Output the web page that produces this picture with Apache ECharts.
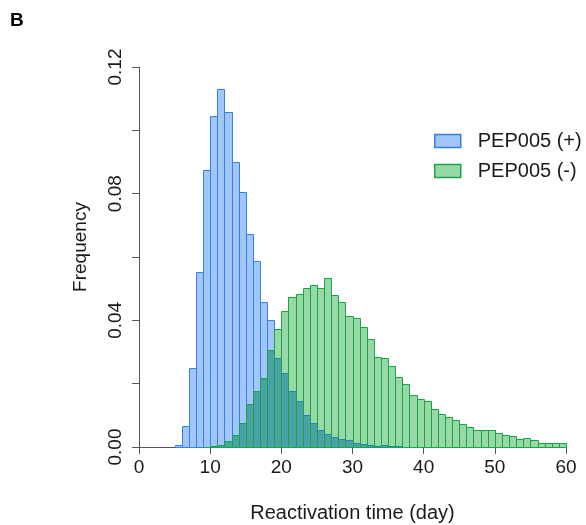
<!DOCTYPE html>
<html>
<head>
<meta charset="utf-8">
<script src="https://cdn.jsdelivr.net/npm/echarts@6/dist/echarts.min.js"></script>
<style>html,body{margin:0;padding:0;background:#fff}#c{width:586px;height:525px}</style>
</head>
<body>
<div id="c"></div>
<script>
// Histogram bins: each bin covers [start, start+1) days
const binStarts = [0,1,2,3,4,5,6,7,8,9,10,11,12,13,14,15,16,17,18,19,20,21,22,23,24,25,26,27,28,29,30,31,32,33,34,35,36,37,38,39,40,41,42,43,44,45,46,47,48,49,50,51,52,53,54,55,56,57,58,59];
const binWidth = 1;
// PEP005 (+) frequencies per bin
const pepPlus = [0,0,0,0,0,0.0005,0.0065,0.0249,0.0554,0.0875,0.1045,0.1130,0.1059,0.0899,0.0804,0.0672,0.0586,0.0457,0.0400,0.0281,0.0233,0.0178,0.0144,0.0102,0.0076,0.0054,0.0042,0.0031,0.0025,0.0021,0.0013,0.0010,0.0006,0.0004,0.0005,0.0003,0.0002,0.0001,0.0001,0.0001,0,0,0,0,0,0,0,0,0,0,0,0,0,0,0,0,0,0,0,0];
// PEP005 (-) frequencies per bin
const pepMinus = [0,0,0,0,0,0,0,0,0,0.0001,0.0003,0.0007,0.0019,0.0037,0.0076,0.0136,0.0176,0.0217,0.0305,0.0373,0.0431,0.0474,0.0484,0.0503,0.0512,0.0501,0.0535,0.0480,0.0457,0.0415,0.0406,0.0378,0.0340,0.0284,0.0280,0.0257,0.0222,0.0198,0.0165,0.0152,0.0144,0.0121,0.0104,0.0096,0.0085,0.0072,0.0064,0.0055,0.0054,0.0054,0.0044,0.0038,0.0035,0.0026,0.0027,0.0022,0.0014,0.0014,0.0014,0.0014];
const yTickLabels = ['0.00','','0.04','','0.08','','0.12'];
const seriesNames = ['PEP005 (+)','PEP005 (-)'];

const FONT = '"Liberation Sans", Arial, Helvetica, sans-serif';
const BLUE = {fill:'#a2c5fa', stroke:'#2f80f0'};
const GREEN = {fill:'#97d8a7', stroke:'#18a445'};
const OVERLAP = '#4aa2a8';
const BLUE_UNDER = '#2a7fc4';

function makeData(vals, other){
  return binStarts.map((s,i)=>[s, s+binWidth, vals[i], other ? other[i] : 0]).filter(d=>d[2]>0);
}
function px(api, x, y){
  const p = api.coord([x, y]);
  return [Math.round(p[0]) + 0.5, Math.round(p[1]) + 0.5];
}
function renderBlue(params, api){
  const x0 = api.value(0), x1 = api.value(1), v = api.value(2);
  const a = px(api, x0, 0), b = px(api, x1, v);
  return {type:'rect', shape:{x:a[0], y:b[1], width:b[0]-a[0], height:a[1]-b[1]},
    style:{fill:BLUE.fill, stroke:BLUE.stroke, lineWidth:1}};
}
function renderGreen(params, api){
  const x0 = api.value(0), x1 = api.value(1), g = api.value(2), bl = api.value(3);
  const a = px(api, x0, 0), top = px(api, x1, g);
  const ov = Math.min(g, bl);
  const ovTop = px(api, x1, ov);
  const children = [
    {type:'rect', shape:{x:a[0], y:top[1], width:top[0]-a[0], height:a[1]-top[1]},
      style:{fill:GREEN.fill, stroke:null}}
  ];
  if (ov > 0) {
    children.push({type:'rect', shape:{x:a[0], y:ovTop[1], width:ovTop[0]-a[0], height:a[1]-ovTop[1]},
      style:{fill:OVERLAP, stroke:null}});
  }
  if (bl > 0 && bl < g) {
    children.push({type:'line', shape:{x1:a[0], y1:ovTop[1], x2:ovTop[0], y2:ovTop[1]},
      style:{stroke:BLUE_UNDER, lineWidth:1}});
  }
  children.push({type:'rect', shape:{x:a[0], y:top[1], width:top[0]-a[0], height:a[1]-top[1]},
    style:{fill:null, stroke:GREEN.stroke, lineWidth:1}});
  return {type:'group', children:children};
}

const chart = echarts.init(document.getElementById('c'), null, {renderer:'canvas'});
chart.setOption({
  animation:false,
  backgroundColor:'#ffffff',
  textStyle:{fontFamily:FONT},
  grid:{left:139, right:20, top:67, bottom:78, containLabel:false, outerBoundsMode:'none'},
  xAxis:{
    type:'value', min:0, max:60, interval:10,
    axisLine:{show:true, onZero:false, lineStyle:{color:'#555', width:1}},
    axisTick:{show:true, length:7, lineStyle:{color:'#555'}},
    axisLabel:{fontSize:19, color:'#1a1a1a', margin:11, fontFamily:FONT},
    splitLine:{show:false},
    name:'Reactivation time (day)', nameLocation:'middle', nameGap:56,
    nameTextStyle:{fontSize:20, color:'#1a1a1a', fontFamily:FONT}
  },
  yAxis:{
    type:'value', min:0, max:0.12, interval:0.02,
    axisLine:{show:true, lineStyle:{color:'#555', width:1}},
    axisTick:{show:true, length:7, lineStyle:{color:'#555'}},
    axisLabel:{rotate:90, fontSize:19, color:'#1a1a1a', margin:14, fontFamily:FONT,
      formatter:function(v, i){ return yTickLabels[i] || ''; }},
    splitLine:{show:false}
  },
  legend:{
    orient:'vertical', left:434, top:131, padding:0, itemWidth:26, itemHeight:13, itemGap:10,
    icon:'rect',
    textStyle:{fontSize:20, color:'#1a1a1a', fontFamily:FONT, padding:[0,0,0,12]},
    data:[
      {name:seriesNames[0], itemStyle:{color:BLUE.fill, borderColor:BLUE.stroke, borderWidth:1.5}},
      {name:seriesNames[1], itemStyle:{color:GREEN.fill, borderColor:GREEN.stroke, borderWidth:1.5}}
    ]
  },
  graphic:[
    {type:'text', left:10, top:11, style:{text:'B', font:'bold 19px '+FONT, fill:'#000'}},
    {type:'text', x:81, y:247, rotation:Math.PI/2,
      style:{text:'Frequency', font:'19px '+FONT, fill:'#1a1a1a', align:'center', verticalAlign:'middle'}}
  ],
  series:[
    {type:'custom', name:seriesNames[0], renderItem:renderBlue, data:makeData(pepPlus),
      itemStyle:{color:BLUE.fill, borderColor:BLUE.stroke}, encode:{x:[0,1], y:2}},
    {type:'custom', name:seriesNames[1], renderItem:renderGreen, data:makeData(pepMinus, pepPlus),
      itemStyle:{color:GREEN.fill, borderColor:GREEN.stroke}, encode:{x:[0,1], y:2}}
  ]
});
</script>
</body>
</html>
